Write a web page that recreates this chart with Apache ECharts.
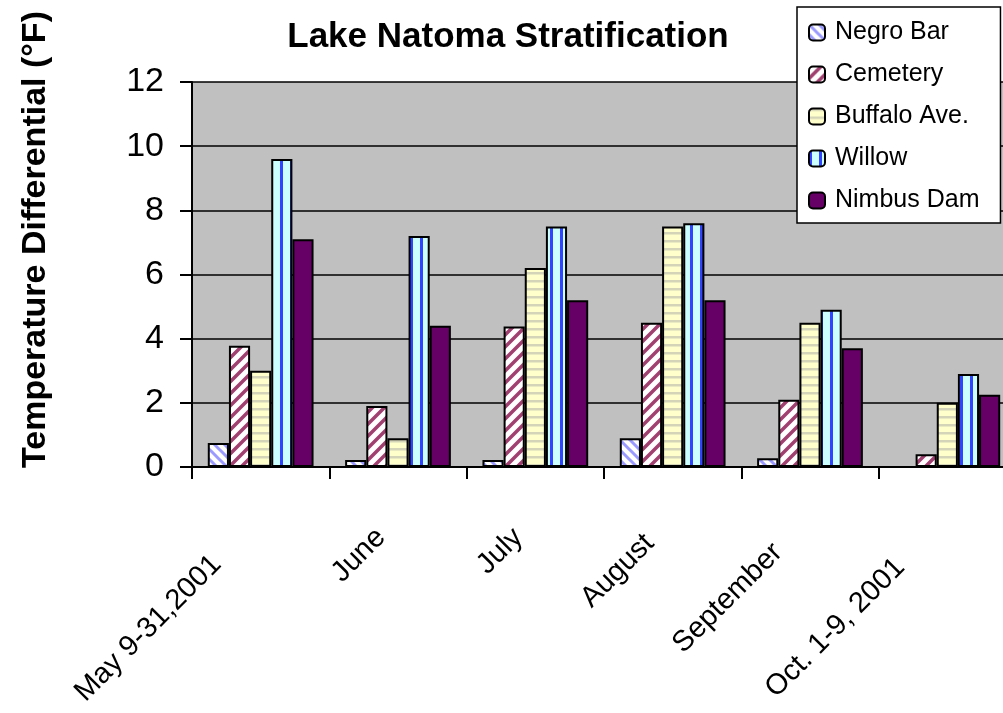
<!DOCTYPE html>
<html>
<head>
<meta charset="utf-8">
<script src="https://cdn.jsdelivr.net/npm/echarts@6/dist/echarts.min.js"></script>
<style>html,body{margin:0;padding:0;background:#fff;overflow:hidden;}#chart{width:1016px;height:713px;}</style>
</head>
<body>
<div id="chart"></div>
<script>
// ---- data ----
const categories = ['May 9-31,2001', 'June', 'July', 'August', 'September', 'Oct. 1-9, 2001'];
const seriesNames = ['Negro Bar', 'Cemetery', 'Buffalo Ave.', 'Willow', 'Nimbus Dam'];
const negroBar  = [0.75, 0.22, 0.22, 0.9, 0.27, 0];
const cemetery  = [3.78, 1.9, 4.38, 4.5, 2.1, 0.4];
const buffalo   = [3.0, 0.9, 6.2, 7.5, 4.5, 2.0];
const willow    = [9.6, 7.2, 7.5, 7.6, 4.9, 2.9];
const nimbusDam = [7.1, 4.4, 5.2, 5.2, 3.7, 2.25];
const yTicks = [0, 2, 4, 6, 8, 10, 12];

// ---- patterns ----
function makePattern(w, h, draw) {
  const c = document.createElement('canvas');
  c.width = w; c.height = h;
  const ctx = c.getContext('2d');
  draw(ctx, w, h);
  return { image: c, repeat: 'repeat' };
}
const patNegro = makePattern(10, 10, (ctx, w, h) => {
  ctx.fillStyle = '#ffffff'; ctx.fillRect(0, 0, w, h);
  ctx.strokeStyle = '#9a9aff'; ctx.lineWidth = 3;
  for (let k = -1; k <= 1; k++) { ctx.beginPath(); ctx.moveTo(-2, -2 + k * w); ctx.lineTo(w + 2, h + 2 + k * w); ctx.stroke(); }
});
const patCem = makePattern(12, 12, (ctx, w, h) => {
  ctx.fillStyle = '#ffffff'; ctx.fillRect(0, 0, w, h);
  ctx.strokeStyle = '#a04070'; ctx.lineWidth = 3.5;
  for (let k = 0; k <= 2; k++) { ctx.beginPath(); ctx.moveTo(-2, k * h + 2); ctx.lineTo(w + 2, k * h - w - 2); ctx.stroke(); }
});
const patBuf = makePattern(8, 8, (ctx, w, h) => {
  ctx.fillStyle = '#ffffcc'; ctx.fillRect(0, 0, w, h);
  ctx.fillStyle = '#d4d4b8'; ctx.fillRect(0, 0, w, 2.5);
});
const patWil = makePattern(10, 10, (ctx, w, h) => {
  ctx.fillStyle = '#ccffff'; ctx.fillRect(0, 0, w, h);
  ctx.fillStyle = '#3344ff'; ctx.fillRect(0, 0, 3, h);
});
const fills = [patNegro, patCem, patBuf, patWil, '#660066'];
const values = [negroBar, cemetery, buffalo, willow, nimbusDam];

const chart = echarts.init(document.getElementById('chart'), null, { renderer: 'canvas' });
const font = 'Liberation Sans, Arial, sans-serif';

const xData = categories.map(c => ({
  value: c,
  textStyle: { padding: [0, (3 * c.length + 5) / 0.707, 0, 0] }
}));

const option = {
  animation: false,
  backgroundColor: '#ffffff',
  title: {
    text: 'Lake Natoma Stratification',
    left: 'center',
    top: 20,
    padding: [0, 0, 0, 18],
    textStyle: { fontFamily: font, fontWeight: 'bold', fontSize: 35, color: '#000' }
  },
  legend: {
    orient: 'vertical',
    left: 797,
    top: 7,
    padding: [13, 21, 10, 11],
    itemWidth: 16,
    itemHeight: 16,
    itemGap: 17,
    backgroundColor: '#ffffff',
    borderColor: '#000',
    borderWidth: 1.5,
    borderRadius: 0,
    textStyle: { fontFamily: font, fontSize: 25, color: '#000', lineHeight: 25, padding: [0, 0, 0, 5] },
    data: seriesNames
  },
  grid: {
    left: 192, top: 82, right: 0, bottom: 246,
    show: true, backgroundColor: '#c0c0c0', borderWidth: 0, containLabel: false
  },
  xAxis: {
    type: 'category',
    data: xData,
    boundaryGap: true,
    axisLine: { show: true, lineStyle: { color: '#000', width: 2 } },
    axisTick: { show: true, length: 12, lineStyle: { color: '#000', width: 2 } },
    axisLabel: { interval: 0, rotate: 45, margin: 49, fontFamily: font, fontSize: 29, color: '#000' },
    splitLine: { show: false }
  },
  yAxis: {
    type: 'value',
    min: 0, max: 12, interval: 2,
    name: 'Temperature Differential (°F)',
    nameLocation: 'middle',
    nameRotate: 90,
    nameGap: 139,
    nameTextStyle: { fontFamily: font, fontWeight: 'bold', fontSize: 34, color: '#000', padding: [0, 0, 0, 70] },
    axisLine: { show: true, lineStyle: { color: '#000', width: 2 } },
    axisTick: { show: true, length: 12, lineStyle: { color: '#000', width: 2 } },
    axisLabel: { margin: 28, fontFamily: font, fontSize: 34, color: '#000',
      formatter: v => (yTicks.indexOf(v) >= 0 ? String(v) : '') },
    splitLine: { show: true, lineStyle: { color: '#000', width: 1.5 } }
  },
  series: seriesNames.map((n, i) => ({
    name: n,
    type: 'bar',
    data: values[i],
    barGap: '0%',
    barCategoryGap: '23%',
    itemStyle: { color: fills[i], borderColor: '#000', borderWidth: 2 }
  }))
};
chart.setOption(option);
</script>
</body>
</html>
